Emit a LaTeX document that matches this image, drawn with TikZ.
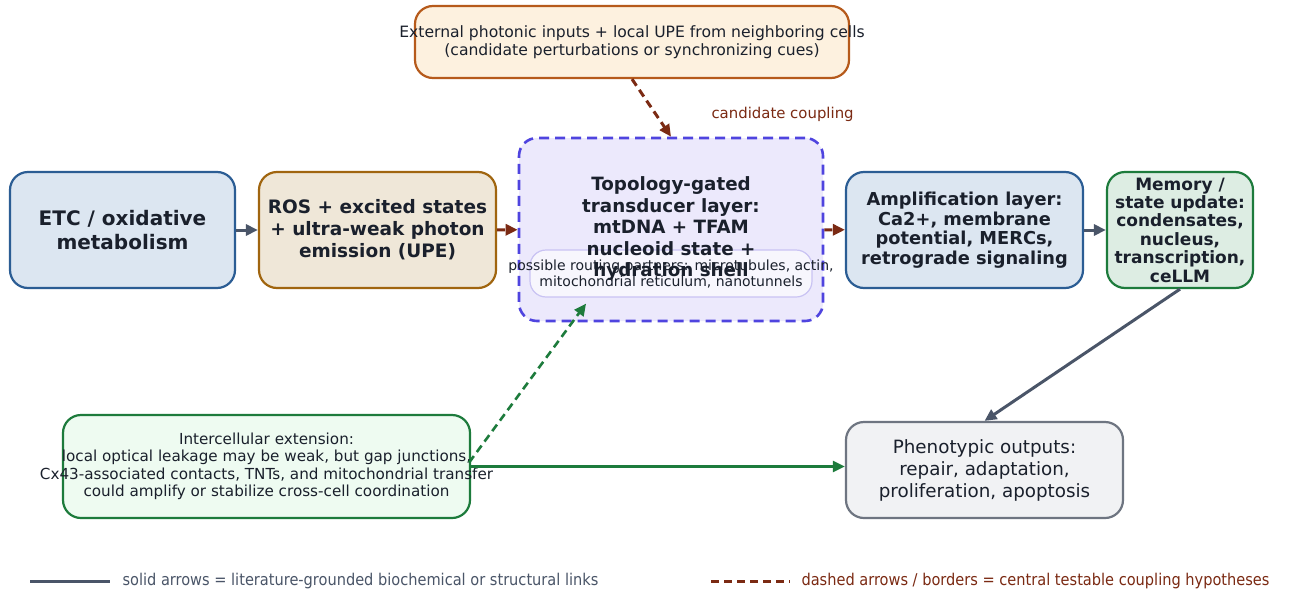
\documentclass[tikz,border=0pt]{standalone}
\usepackage{fontspec}
\setmainfont{DejaVu Sans}
\newfontfamily\condfont{DejaVu Sans Condensed}
\usetikzlibrary{arrows.meta, calc, positioning}

\definecolor{etcfill}{HTML}{DCE6F1}
\definecolor{etcline}{HTML}{2B5D94}
\definecolor{rosfill}{HTML}{EFE7D8}
\definecolor{rosline}{HTML}{A0650F}
\definecolor{topofill}{HTML}{ECE9FC}
\definecolor{topoline}{HTML}{4F44DF}
\definecolor{routeline}{HTML}{C9C3F3}
\definecolor{memfill}{HTML}{DDEDE3}
\definecolor{greenline}{HTML}{1D7B3C}
\definecolor{extfill}{HTML}{FDF1DF}
\definecolor{extline}{HTML}{B65A1B}
\definecolor{interfill}{HTML}{EEFBF1}
\definecolor{phenofill}{HTML}{F1F2F4}
\definecolor{phenoline}{HTML}{6E7581}
\definecolor{solidarr}{HTML}{4A5568}
\definecolor{dasharr}{HTML}{7B2A13}
\definecolor{inktext}{HTML}{1A202C}

\begin{document}
\begin{tikzpicture}[x=1pt, y=-1pt,
    box/.style={draw, rounded corners=18pt, line width=2.2pt, inner sep=0pt},
    boldtxt/.style={align=center, text=inktext, font=\bfseries\fontsize{18.5}{22}\selectfont},
    plaintxt/.style={align=center, text=inktext, font=\fontsize{15.2}{17.5}\selectfont},
    solidlink/.style={-{Triangle[length=12pt, width=11pt]}, line width=3pt, solidarr},
    dashlink/.style={-{Triangle[length=12pt, width=11pt]}, line width=3pt, dasharr, dash pattern=on 8pt off 5pt},
    greenlink/.style={-{Triangle[length=12pt, width=11pt]}, line width=2.6pt, greenline}]
    \useasboundingbox (0,0) rectangle (1289,589);
    \fill[white] (0,0) rectangle (1289,589);

    % boxes
    \node[box, etcline, fill=etcfill, minimum width=225pt, minimum height=116pt] (etc) at (122.5,230) {};
    \node[box, rosline, fill=rosfill, minimum width=237pt, minimum height=116pt] (ros) at (377.5,230) {};
    \node[box, topoline, fill=topofill, line width=2.6pt, dash pattern=on 10pt off 6pt, minimum width=304pt, minimum height=183pt] (topo) at (671,229.5) {};
    \node[box, etcline, fill=etcfill, minimum width=237pt, minimum height=116pt] (amp) at (964.5,230) {};
    \node[box, greenline, fill=memfill, minimum width=146pt, minimum height=116pt] (mem) at (1180,230) {};
    \node[box, extline, fill=extfill, minimum width=434pt, minimum height=72pt] (ext) at (632,42) {};
    \node[box, greenline, fill=interfill, minimum width=407pt, minimum height=103pt] (inter) at (266.5,466.5) {};
    \node[box, phenoline, fill=phenofill, minimum width=277pt, minimum height=96pt] (pheno) at (984.5,470) {};

    % routing partners box, under the transducer text
    \node[draw=routeline, line width=1.2pt, fill=white, fill opacity=0.6, rounded corners=16pt, minimum width=282pt, minimum height=47pt] (route) at (671,273.5) {};

    % texts
    \node[boldtxt, font=\bfseries\fontsize{20}{24}\selectfont] (etc-t) at (etc) {ETC / oxidative\\metabolism};
    \node[boldtxt] (ros-t) at (ros) {ROS + excited states\\+ ultra-weak photon\\emission (UPE)};
    \node[boldtxt, font=\bfseries\fontsize{18.3}{21.5}\selectfont] (topo-t) at (671,229) {Topology-gated\\transducer layer:\\mtDNA + TFAM\\nucleoid state +\\hydration shell};
    \node[boldtxt, font=\bfseries\fontsize{17.8}{19.5}\selectfont] (amp-t) at (amp) {Amplification layer:\\Ca2+, membrane\\potential, MERCs,\\retrograde signaling};
    \node[boldtxt, font=\bfseries\fontsize{17}{18.4}\selectfont] (mem-t) at (mem) {Memory /\\state update:\\condensates,\\nucleus,\\transcription,\\ceLLM};
    \node[plaintxt, font=\fontsize{15.6}{18}\selectfont] (ext-t) at (ext) {External photonic inputs + local UPE from neighboring cells\\(candidate perturbations or synchronizing cues)};
    \node[plaintxt] (inter-t) at (inter) {Intercellular extension:\\local optical leakage may be weak, but gap junctions,\\Cx43-associated contacts, TNTs, and mitochondrial transfer\\could amplify or stabilize cross-cell coordination};
    \node[plaintxt, font=\fontsize{18.3}{22}\selectfont] (pheno-t) at (pheno) {Phenotypic outputs:\\repair, adaptation,\\proliferation, apoptosis};
    \node[plaintxt, font=\fontsize{14}{16}\selectfont] (route-t) at (route) {possible routing partners: microtubules, actin,\\mitochondrial reticulum, nanotunnels};

    % connectors
    \draw[solidlink] (etc) -- (ros);
    \draw[dashlink] (ros) -- (topo);
    \draw[dashlink] (topo) -- (amp);
    \draw[solidlink] (amp) -- (mem);
    \draw[dashlink] (ext.south) -- (topo.north);
    \node[text=dasharr, font=\fontsize{14.9}{17}\selectfont, anchor=west] (coupling) at (708,114) {candidate coupling};
    \draw[solidlink] (mem.south) -- (pheno.north);
    \coordinate (route-in) at ($(route.south west)!0.2!(route.south east)+(0,6)$);
    \draw[greenlink, dash pattern=on 8pt off 5pt] ($(inter.east)+(-2,-4)$) -- (route-in);
    \draw[greenlink] (inter.east) -- (inter.east -| pheno.west);

    % legend
    \coordinate (leg-a1) at (30,581);
    \coordinate (leg-a2) at (110,581);
    \coordinate (leg-b1) at (711,581);
    \coordinate (leg-b2) at (790,581);
    \draw[line width=3pt, solidarr] (leg-a1) -- (leg-a2);
    \draw[line width=3pt, dasharr, dash pattern=on 8pt off 5pt] (leg-b1) -- (leg-b2);
    \node[anchor=west, text=solidarr, font=\condfont\fontsize{16.2}{18}\selectfont] (leg-a) at (119,581) {solid arrows = literature-grounded biochemical or structural links};
    \node[anchor=west, text=dasharr, font=\condfont\fontsize{16.2}{18}\selectfont] (leg-b) at (798,581) {dashed arrows / borders = central testable coupling hypotheses};
\end{tikzpicture}
\end{document}
